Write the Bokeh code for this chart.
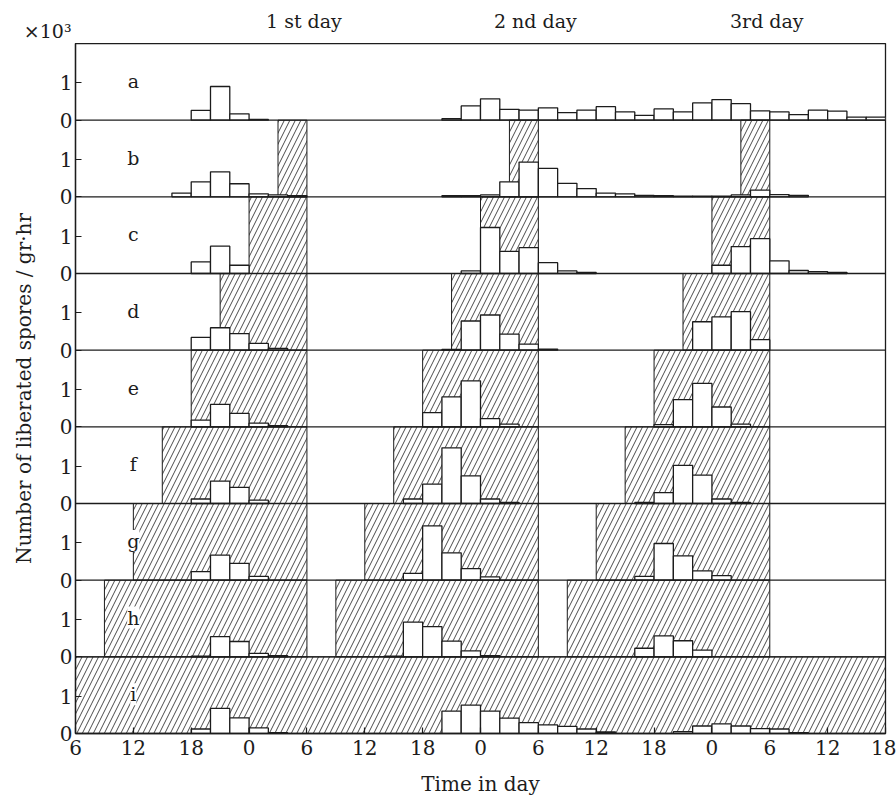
import numpy as np
from bokeh.plotting import figure
from bokeh.layouts import column
from bokeh.models import Range1d, FixedTicker, Label, CustomJSTickFormatter
from bokeh.embed import file_html
from bokeh.resources import INLINE

# ---------------- data ----------------
BIN_HOURS = 2          # width of each sampling bin (hours)
PANEL_UNITS = 2.05     # vertical extent of each panel (x10^3 spores)

panel_letters = ["a", "b", "c", "d", "e", "f", "g", "h", "i"]

a_hours = [18, 20, 22, 24, 44, 46, 48, 50, 52, 54, 56, 58, 60, 62, 64, 66, 68, 70, 72, 74, 76, 78, 80, 82, 84, 86, 88]
a_values = [0.26, 0.9, 0.17, 0.02, 0.04, 0.38, 0.57, 0.29, 0.27, 0.33, 0.2, 0.27, 0.36, 0.22, 0.13, 0.3, 0.22, 0.46, 0.55, 0.44, 0.25, 0.22, 0.15, 0.27, 0.24, 0.08, 0.08]

b_hours = [16, 18, 20, 22, 24, 26, 28, 44, 46, 48, 50, 52, 54, 56, 58, 60, 62, 64, 66, 68, 70, 72, 74, 76, 78, 80]
b_values = [0.1, 0.4, 0.67, 0.35, 0.08, 0.05, 0.03, 0.03, 0.03, 0.05, 0.4, 0.93, 0.76, 0.36, 0.22, 0.1, 0.08, 0.04, 0.03, 0.02, 0.02, 0.02, 0.05, 0.18, 0.06, 0.04]

c_hours = [18, 20, 22, 46, 48, 50, 52, 54, 56, 58, 72, 74, 76, 78, 80, 82, 84]
c_values = [0.31, 0.73, 0.22, 0.07, 1.23, 0.59, 0.69, 0.29, 0.07, 0.03, 0.22, 0.72, 0.93, 0.34, 0.08, 0.05, 0.03]

d_hours = [18, 20, 22, 24, 26, 44, 46, 48, 50, 52, 54, 70, 72, 74, 76]
d_values = [0.34, 0.6, 0.44, 0.18, 0.05, 0.02, 0.78, 0.94, 0.43, 0.16, 0.03, 0.76, 0.89, 1.03, 0.28]

e_hours = [18, 20, 22, 24, 26, 42, 44, 46, 48, 50, 66, 68, 70, 72, 74]
e_values = [0.18, 0.6, 0.36, 0.1, 0.03, 0.38, 0.8, 1.23, 0.22, 0.07, 0.06, 0.73, 1.16, 0.53, 0.07]

f_hours = [18, 20, 22, 24, 40, 42, 44, 46, 48, 50, 64, 66, 68, 70, 72, 74]
f_values = [0.12, 0.6, 0.43, 0.09, 0.12, 0.52, 1.49, 0.74, 0.12, 0.03, 0.03, 0.29, 1.02, 0.76, 0.12, 0.03]

g_hours = [18, 20, 22, 24, 40, 42, 44, 46, 48, 64, 66, 68, 70, 72]
g_values = [0.23, 0.67, 0.45, 0.1, 0.18, 1.45, 0.73, 0.31, 0.09, 0.1, 0.98, 0.65, 0.25, 0.12]

h_hours = [18, 20, 22, 24, 26, 38, 40, 42, 44, 46, 48, 64, 66, 68, 70]
h_values = [0.02, 0.54, 0.41, 0.09, 0.03, 0.02, 0.93, 0.81, 0.42, 0.16, 0.03, 0.23, 0.56, 0.43, 0.18]

i_hours = [18, 20, 22, 24, 26, 44, 46, 48, 50, 52, 54, 56, 58, 60, 68, 70, 72, 74, 76, 78, 80]
i_values = [0.12, 0.67, 0.42, 0.15, 0.02, 0.6, 0.76, 0.6, 0.41, 0.29, 0.23, 0.19, 0.12, 0.04, 0.05, 0.2, 0.26, 0.2, 0.13, 0.12, 0.02]

# dark periods (start hour, end hour)
dark_a = []
dark_b = [(27, 30), (51, 54), (75, 78)]
dark_c = [(24, 30), (48, 54), (72, 78)]
dark_d = [(21, 30), (45, 54), (69, 78)]
dark_e = [(18, 30), (42, 54), (66, 78)]
dark_f = [(15, 30), (39, 54), (63, 78)]
dark_g = [(12, 30), (36, 54), (60, 78)]
dark_h = [(9, 30), (33, 54), (57, 78)]
dark_i = [(6, 90)]

x_ticks = [6, 12, 18, 24, 30, 36, 42, 48, 54, 60, 66, 72, 78, 84, 90]
x_tick_labels = ["6", "12", "18", "0", "6", "12", "18", "0", "6", "12", "18", "0", "6", "12", "18"]
y_tick_values = [0, 1]
y_tick_labels = ["0", "1"]

day_labels = ["1 st  day", "2 nd  day", "3rd  day"]
day_label_hours = [30, 54, 78]
unit_label = "×10³"

hours_list = [a_hours, b_hours, c_hours, d_hours, e_hours, f_hours, g_hours, h_hours, i_hours]
values_list = [a_values, b_values, c_values, d_values, e_values, f_values, g_values, h_values, i_values]
dark_list = [dark_a, dark_b, dark_c, dark_d, dark_e, dark_f, dark_g, dark_h, dark_i]

# ---------------- layout constants ----------------
FONT = "DejaVu Serif"
INK = "#1c1c1c"
X0, X1 = 6, 90
FRAME_W, FRAME_H = 810, 690
BORDER_L, BORDER_R = 75, 11
HEAD_H = 43
n = len(panel_letters)
top = n * PANEL_UNITS

# ---------------- header strip (day labels, unit) ----------------
head = figure(frame_width=FRAME_W, frame_height=HEAD_H,
              x_range=Range1d(X0, X1), y_range=Range1d(0, HEAD_H),
              x_axis_location=None, y_axis_location="left",
              output_backend="svg", toolbar_location=None,
              min_border_left=BORDER_L, min_border_right=BORDER_R,
              min_border_top=0, min_border_bottom=0)
head.grid.visible = False
head.outline_line_color = None
head.background_fill_color = "white"
head.border_fill_color = "white"

# the unit mark sits left of the frame: render it as the header's single y tick label
unit_y = 9
head.yaxis.ticker = FixedTicker(ticks=[unit_y])
head.yaxis.major_label_overrides = {unit_y: unit_label}
head.yaxis.axis_line_color = None
head.yaxis.major_tick_line_color = None
head.yaxis.minor_tick_line_color = None
head.yaxis.major_tick_in = 0
head.yaxis.major_tick_out = 0
head.yaxis.major_label_standoff = 4
head.yaxis.major_label_text_font = FONT
head.yaxis.major_label_text_font_size = "19px"
head.yaxis.major_label_text_color = INK

for lab, hr in zip(day_labels, day_label_hours):
    head.add_layout(Label(x=hr, y=HEAD_H - 20, text=lab, text_align="center",
                          text_baseline="middle", text_font=FONT, text_font_size="19px",
                          text_color=INK))

# ---------------- main figure ----------------
p = figure(frame_width=FRAME_W, frame_height=FRAME_H,
           x_range=Range1d(X0, X1), y_range=Range1d(0, top),
           output_backend="svg", toolbar_location=None,
           min_border_left=BORDER_L, min_border_right=BORDER_R,
           min_border_top=0, min_border_bottom=66)
p.xgrid.visible = False
p.ygrid.visible = False
p.outline_line_color = INK
p.outline_line_width = 1.3
p.background_fill_color = "white"
p.border_fill_color = "white"

for k in range(n):
    base = (n - 1 - k) * PANEL_UNITS
    dark = dark_list[k]
    if dark:
        p.quad(left=[d[0] for d in dark], right=[d[1] for d in dark],
               bottom=base, top=base + PANEL_UNITS,
               fill_color=None, hatch_pattern="/", hatch_color=INK,
               hatch_scale=11, hatch_weight=0.8, line_color=INK, line_width=1)
    h = np.array(hours_list[k], dtype=float)
    v = np.array(values_list[k], dtype=float)
    p.quad(left=h, right=h + BIN_HOURS, bottom=base, top=base + v,
           fill_color="white", line_color=INK, line_width=1.3)

# panel separators
seps = [k * PANEL_UNITS for k in range(1, n)]
p.segment(x0=[X0] * len(seps), x1=[X1] * len(seps), y0=seps, y1=seps,
          line_color=INK, line_width=1.3)

# panel letters
for k, letter in enumerate(panel_letters):
    base = (n - 1 - k) * PANEL_UNITS
    p.add_layout(Label(x=12, y=base + 1.05, text=letter, text_align="center",
                       text_baseline="middle", text_font=FONT, text_font_size="19px",
                       text_color=INK, background_fill_color="white"))

# x axis
p.xaxis.ticker = FixedTicker(ticks=x_ticks)
p.xaxis.major_label_overrides = {t: l for t, l in zip(x_ticks, x_tick_labels)}
p.xaxis.axis_label = "Time in day"

# y axis: ticks at 0 and 1 of every panel
y_ticks = [(n - 1 - k) * PANEL_UNITS + yv for k in range(n) for yv in y_tick_values]
p.yaxis.ticker = FixedTicker(ticks=sorted(y_ticks))
p.yaxis.formatter = CustomJSTickFormatter(
    args=dict(P=PANEL_UNITS, labels=y_tick_labels, vals=y_tick_values),
    code="""
const r = tick - Math.round(tick / P) * P;
let best = 0;
for (let i = 0; i < vals.length; i++) {
  if (Math.abs(vals[i] - r) < Math.abs(vals[best] - r)) best = i;
}
return labels[best];
""")
p.yaxis.axis_label = "Number of liberated spores / gr·hr"

for ax in (p.xaxis, p.yaxis):
    ax.axis_line_color = INK
    ax.axis_line_width = 1.3
    ax.major_tick_line_color = INK
    ax.major_tick_line_width = 1.2
    ax.minor_tick_line_color = None
    ax.major_tick_out = 0
    ax.major_tick_in = 6
    ax.major_label_text_font = FONT
    ax.major_label_text_font_size = "20px"
    ax.major_label_text_color = INK
    ax.axis_label_text_font = FONT
    ax.axis_label_text_font_size = "20px"
    ax.axis_label_text_font_style = "normal"
    ax.axis_label_text_color = INK

p.xaxis.major_label_standoff = 6
p.xaxis.axis_label_standoff = 14
p.yaxis.major_label_standoff = 3
p.yaxis.axis_label_standoff = 21

layout = column(head, p, spacing=0)
open("out.html", "w").write(file_html(layout, INLINE))
